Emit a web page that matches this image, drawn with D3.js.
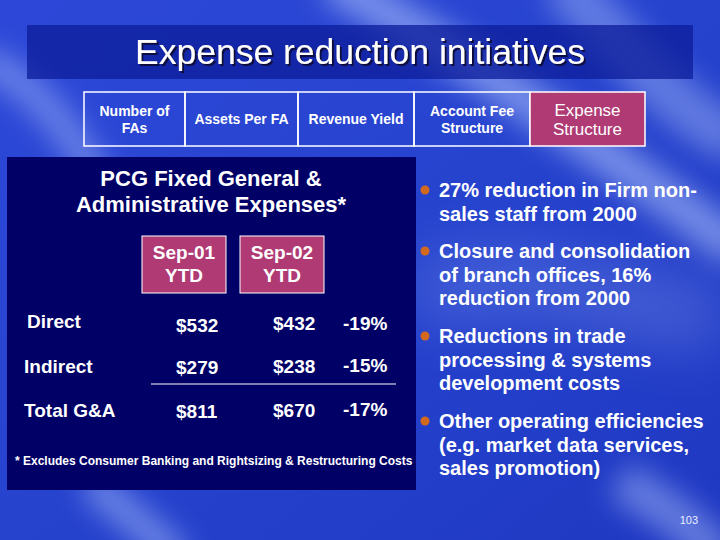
<!DOCTYPE html>
<html>
<head>
<meta charset="utf-8">
<script src="https://cdn.jsdelivr.net/npm/d3@7"></script>
<style>
  body { margin: 0; background: #2238c8; }
  svg { display: block; font-family: "Liberation Sans", Arial, sans-serif; }
</style>
</head>
<body>
<div class="chart"></div>
<script>
const width = 720
const height = 540

// slide data
const title = 'Expense reduction initiatives'
const tabs = [['Number of', 'FAs'], ['Assets Per FA'], ['Revenue Yield'], ['Account Fee', 'Structure'], ['Expense', 'Structure']]
const tabEdges = [84, 185, 298, 414, 530, 645]
const activeTab = 4

const panelTitle = ['PCG Fixed General &', 'Administrative Expenses*']
const periods = [['Sep-01', 'YTD'], ['Sep-02', 'YTD']]
const rows = ['Direct', 'Indirect', 'Total G&A']
const sep01 = [532, 279, 811]
const sep02 = [432, 238, 670]
const change = [-19, -15, -17]
const footnote = '* Excludes Consumer Banking and Rightsizing & Restructuring Costs'

const bullets = [
    ['27% reduction in Firm non-', 'sales staff from 2000'],
    ['Closure and consolidation', 'of branch offices, 16%', 'reduction from 2000'],
    ['Reductions in trade', 'processing & systems', 'development costs'],
    ['Other operating efficiencies', '(e.g. market data services,', 'sales promotion)']
]
const pageNo = '103'

const magenta = '#b03a74'
const navy = '#000066'

const svg = d3.select('.chart').append('svg')
    .attr('width', width)
    .attr('height', height)
    .attr('viewBox', [0, 0, width, height])

const defs = svg.append('defs')
const bg = defs.append('linearGradient').attr('id', 'bg')
    .attr('x1', 0).attr('y1', 0).attr('x2', 1).attr('y2', 1)
bg.append('stop').attr('offset', 0).attr('stop-color', '#2d48d8')
bg.append('stop').attr('offset', 0.5).attr('stop-color', '#2643ce')
bg.append('stop').attr('offset', 1).attr('stop-color', '#1f38c2')
const addBlur = (id, sd) => defs.append('filter').attr('id', id)
    .attr('filterUnits', 'userSpaceOnUse')
    .attr('x', -100).attr('y', -100).attr('width', width + 200).attr('height', height + 200)
    .append('feGaussianBlur').attr('stdDeviation', sd)
addBlur('blur', 14)
addBlur('blur2', 30)
defs.append('filter').attr('id', 'shadow')
    .append('feDropShadow').attr('dx', 2).attr('dy', 2).attr('stdDeviation', 0)
    .attr('flood-color', '#0a0a40')

// background with light streaks
svg.append('rect').attr('width', width).attr('height', height).attr('fill', 'url(#bg)')
const streaks = svg.append('g').attr('fill', 'none').attr('stroke', '#b8ccff')
streaks.append('path').attr('d', 'M330,-20 C470,60 560,120 740,250')
    .attr('stroke-width', 40).attr('opacity', 0.55).attr('filter', 'url(#blur)')
streaks.append('path').attr('d', 'M-20,60 C60,90 120,200 160,330')
    .attr('stroke-width', 30).attr('opacity', 0.45).attr('filter', 'url(#blur)')
streaks.append('path').attr('d', 'M560,-20 C620,40 680,120 740,140')
    .attr('stroke-width', 50).attr('opacity', 0.4).attr('filter', 'url(#blur)')
streaks.append('path').attr('d', 'M90,480 C120,510 150,530 180,560')
    .attr('stroke-width', 30).attr('opacity', 0.5).attr('filter', 'url(#blur)')
streaks.append('path').attr('d', 'M620,480 C650,500 690,520 720,560')
    .attr('stroke-width', 40).attr('opacity', 0.45).attr('filter', 'url(#blur)')
streaks.append('path').attr('d', 'M420,300 C500,260 600,300 720,320')
    .attr('stroke-width', 60).attr('opacity', 0.25).attr('filter', 'url(#blur2)')

// title band
svg.append('rect').attr('x', 27).attr('y', 25).attr('width', 666).attr('height', 54)
    .attr('fill', '#0c1c9a').attr('opacity', 0.75)
svg.append('text').attr('x', 360).attr('y', 64).attr('text-anchor', 'middle')
    .attr('font-size', 35.5).attr('fill', '#fff').attr('filter', 'url(#shadow)').text(title)

// tabs
const tabG = svg.append('g').selectAll('g').data(tabs).join('g')
tabG.append('rect')
    .attr('x', (d, i) => tabEdges[i]).attr('y', 92)
    .attr('width', (d, i) => tabEdges[i + 1] - tabEdges[i]).attr('height', 54)
    .attr('fill', (d, i) => i === activeTab ? magenta : 'none')
    .attr('stroke', '#fff').attr('stroke-width', 1.5)
tabG.each(function(d, i) {
    const big = i === activeTab
    const fs = big ? 17 : 14
    const lh = big ? 19 : 17
    const cx = (tabEdges[i] + tabEdges[i + 1]) / 2
    const y0 = 119 - (d.length - 1) * lh / 2 + fs * 0.36
    d3.select(this).selectAll('text').data(d).join('text')
        .attr('x', cx).attr('y', (t, j) => y0 + j * lh)
        .attr('text-anchor', 'middle').attr('font-size', fs)
        .attr('font-weight', big ? 'normal' : 'bold')
        .attr('fill', '#fff').text(t => t)
})

// left panel
svg.append('rect').attr('x', 7).attr('y', 157).attr('width', 409).attr('height', 333).attr('fill', navy)
svg.append('g').selectAll('text').data(panelTitle).join('text')
    .attr('x', 211).attr('y', (d, i) => 186 + i * 26).attr('text-anchor', 'middle')
    .attr('font-size', 22).attr('font-weight', 'bold').attr('fill', '#fff').text(d => d)

const boxX = [142, 240]
const periodG = svg.append('g').selectAll('g').data(periods).join('g')
periodG.append('rect')
    .attr('x', (d, i) => boxX[i]).attr('y', 236)
    .attr('width', 84).attr('height', 57)
    .attr('fill', magenta).attr('stroke', '#fff').attr('stroke-width', 1)
periodG.each(function(d, i) {
    const cx = boxX[i] + 42
    d3.select(this).selectAll('text').data(d).join('text')
        .attr('x', cx).attr('y', (t, j) => 259 + j * 23).attr('text-anchor', 'middle')
        .attr('font-size', 19).attr('font-weight', 'bold').attr('fill', '#fff').text(t => t)
})

const rowY = d3.scalePoint().domain(rows).range([329, 417])
const fmt = v => '$' + v
const rowG = svg.append('g').selectAll('g').data(rows).join('g')
    .attr('font-size', 19).attr('font-weight', 'bold').attr('fill', '#fff')
rowG.append('text').attr('x', (d, i) => i === 0 ? 27 : 24).attr('y', (d, i) => rowY(d) + (i === 0 ? -1 : 0)).text(d => d)
rowG.append('text').attr('x', 176).attr('y', (d, i) => rowY(d) + (i === 0 ? 3 : 1)).text((d, i) => fmt(sep01[i]))
rowG.append('text').attr('x', 273).attr('y', (d, i) => rowY(d) + (i === 0 ? 1 : 0)).text((d, i) => fmt(sep02[i]))
rowG.append('text').attr('x', 343).attr('y', (d, i) => rowY(d) + (i === 0 ? 1 : -1)).text((d, i) => change[i] + '%')

const ruleY = (rowY('Indirect') + rowY('Total G&A')) / 2 - 11
svg.append('line').attr('x1', 151).attr('x2', 396)
    .attr('y1', ruleY).attr('y2', ruleY)
    .attr('stroke', '#fff').attr('stroke-width', 1)

svg.append('text').attr('x', 15).attr('y', 465)
    .attr('font-size', 12).attr('font-weight', 'bold').attr('fill', '#fff').text(footnote)

// bullets on the right
const bulletTop = [197, 258, 343, 428]
const lineH = 23.5
const bG = svg.append('g').selectAll('g').data(bullets).join('g')
bG.append('circle').attr('cx', 425).attr('cy', (d, i) => bulletTop[i] - 7).attr('r', 4.5)
    .attr('fill', '#d2691e')
bG.each(function(d, i) {
    d3.select(this).selectAll('text').data(d).join('text')
        .attr('x', 439).attr('y', (t, j) => bulletTop[i] + j * lineH)
        .attr('font-size', 20).attr('font-weight', 'bold').attr('fill', '#fff').text(t => t)
})

svg.append('text').attr('x', 698).attr('y', 524).attr('text-anchor', 'end')
    .attr('font-size', 11).attr('fill', '#e8eeff').text(pageNo)
</script>
</body>
</html>
